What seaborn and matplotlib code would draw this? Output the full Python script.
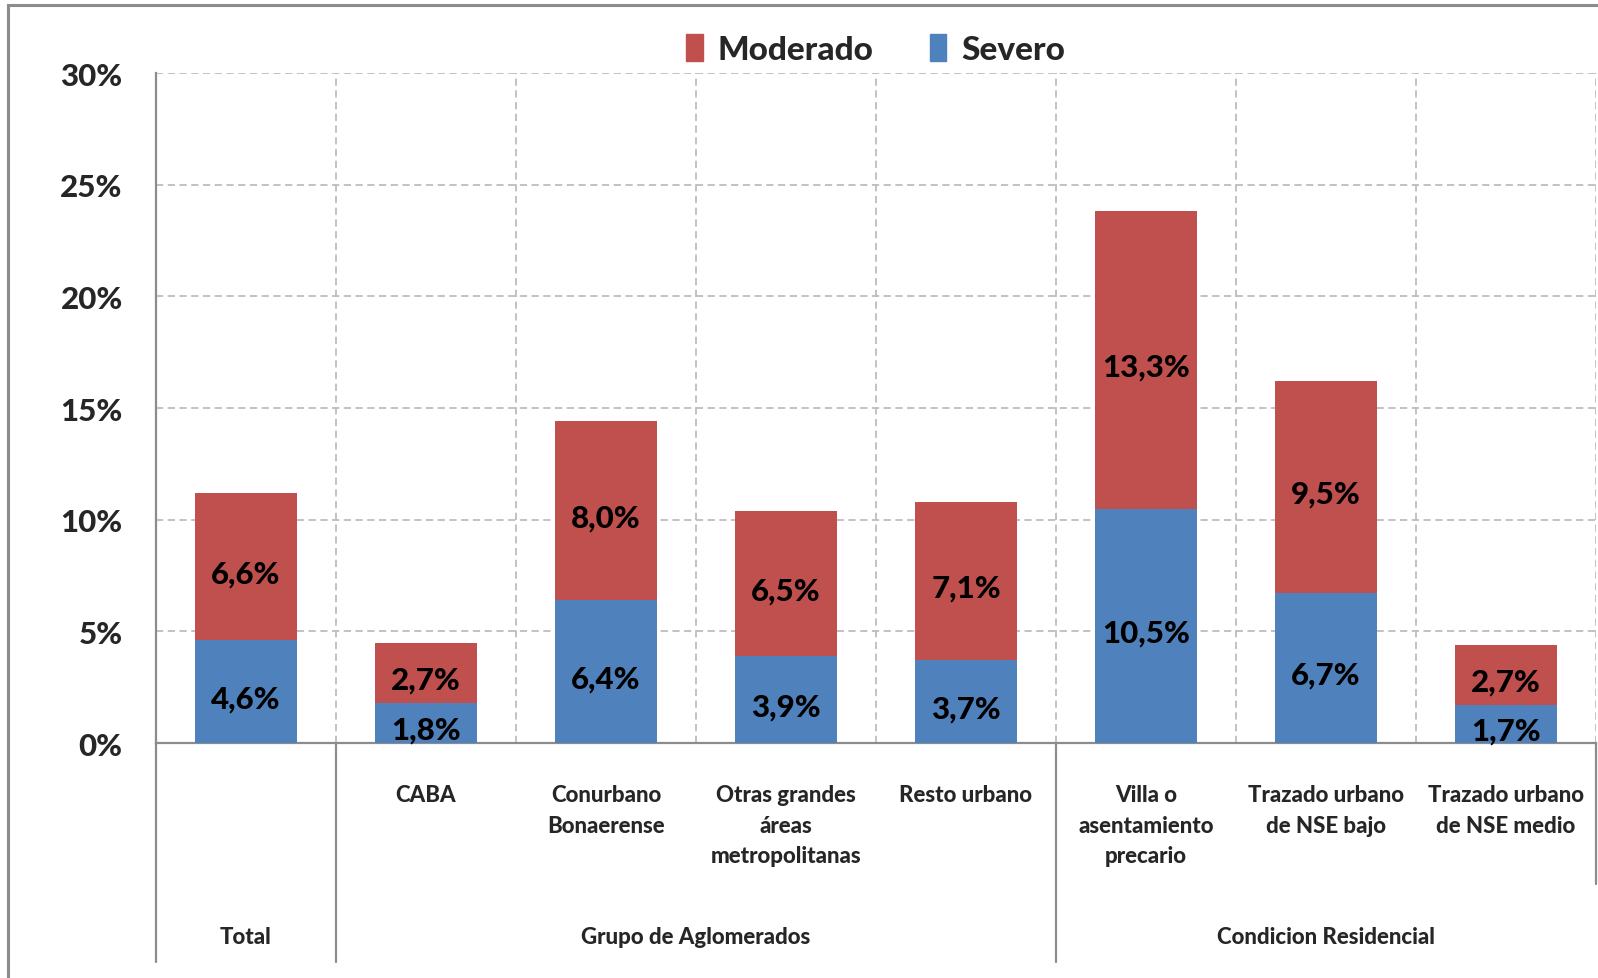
import numpy as np
import pandas as pd
import matplotlib
matplotlib.use("Agg")
import matplotlib.pyplot as plt
import matplotlib.transforms as mtransforms
from matplotlib.patches import Patch, Rectangle
import seaborn as sns

# data
categorias = ["Total", "CABA", "Conurbano\nBonaerense", "Otras grandes\náreas\nmetropolitanas",
              "Resto urbano", "Villa o\nasentamiento\nprecario", "Trazado urbano\nde NSE bajo",
              "Trazado urbano\nde NSE medio"]
severo = [4.6, 1.8, 6.4, 3.9, 3.7, 10.5, 6.7, 1.7]
moderado = [6.6, 2.7, 8.0, 6.5, 7.1, 13.3, 9.5, 2.7]
grupos = ["Total", "Grupo de Aglomerados", "Condicion Residencial"]
grupo_rango = [(0, 0), (1, 4), (5, 7)]
yticks = [0, 5, 10, 15, 20, 25, 30]

df = pd.DataFrame({"cat": categorias, "Severo": severo, "Moderado": moderado})
df["total"] = df["Severo"] + df["Moderado"]

sns.set_style("white")
plt.rcParams["font.family"] = ["Lato", "DejaVu Sans"]
W = 900

rojo = "#C0504D"
azul = "#4F81BD"

fig = plt.figure(figsize=(15.98, 9.79), dpi=100)
ax = fig.add_axes([0.0976, 0.240, 0.9011, 0.6844])

# stacked: total in red, severo in blue on top of it
sns.barplot(data=df, x="cat", y="total", color=rojo, width=0.57, saturation=1, ax=ax,
            zorder=3, linewidth=0)
sns.barplot(data=df, x="cat", y="Severo", color=azul, width=0.57, saturation=1, ax=ax,
            zorder=4, linewidth=0)

ax.set_xlim(-0.5, len(categorias) - 0.5)
ax.set_ylim(0, 30)
ax.set_yticks(yticks)
ax.set_yticklabels([f"{t}%" for t in yticks], fontsize=22.5, fontweight=W)
ax.tick_params(axis="y", length=0, pad=24)
ax.set_xticks([])
ax.set_xlabel("")
ax.set_ylabel("")

# dashed grid
for t in yticks[1:]:
    ax.axhline(t, color="#BDBDBD", lw=1.3, ls=(0, (4, 2.5)), zorder=1)
for b in np.arange(0.5, len(categorias), 1):
    ax.axvline(b, color="#BDBDBD", lw=1.3, ls=(0, (4, 2.5)), zorder=1)

for s in ["top", "right"]:
    ax.spines[s].set_visible(False)
for s in ["left", "bottom"]:
    ax.spines[s].set_color("#8C8C8C")
    ax.spines[s].set_linewidth(1.6)

# value labels
for i, (s, m) in enumerate(zip(severo, moderado)):
    ax.text(i, s / 2 - 0.3, f"{s:.1f}%".replace(".", ","), ha="center", va="center",
            fontsize=22.5, fontweight=W, color="black", zorder=5)
    ax.text(i, s + m / 2 - 0.3, f"{m:.1f}%".replace(".", ","), ha="center", va="center",
            fontsize=22.5, fontweight=W, color="black", zorder=5)

# multi level category axis
tr = mtransforms.blended_transform_factory(ax.transData, fig.transFigure)
for i, c in enumerate(categorias):
    if i == 0:
        continue
    ax.text(i, 0.198, c, transform=tr, ha="center", va="top", fontsize=16,
            fontweight=W, linespacing=1.55)
for g, (a, b) in zip(grupos, grupo_rango):
    ax.text((a + b) / 2, 0.042, g, transform=tr, ha="center", va="center", fontsize=16,
            fontweight=W)

for x in [-0.5, 0.5, 4.5]:
    ax.axvline(x, ymin=-0.327, ymax=0, color="#8C8C8C", lw=1.6, clip_on=False)
ax.axvline(len(categorias) - 0.5, ymin=-0.21, ymax=0, color="#8C8C8C", lw=1.6, clip_on=False)

# legend on top
handles = [Patch(color=rojo, label="Moderado"), Patch(color=azul, label="Severo")]
fig.legend(handles=handles, loc="center", bbox_to_anchor=(0.548, 0.949), ncol=2, frameon=False,
           prop={"size": 24, "weight": W}, handlelength=0.5, handleheight=0.85,
           handletextpad=0.45, columnspacing=1.67)

# outer chart border
fig.patches.append(Rectangle((0.005, -0.05), 1.2, 1.044, transform=fig.transFigure,
                             fill=False, edgecolor="#8C8C8C", lw=2.2))

plt.savefig("out.png", dpi=100)
